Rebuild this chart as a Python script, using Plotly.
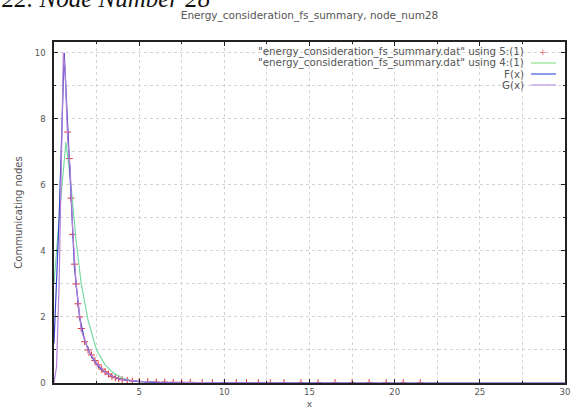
import plotly.graph_objects as go

# Data
red_x = [0.8, 0.9, 1.0, 1.1, 1.2, 1.3, 1.4, 1.5, 1.6, 1.8, 2.0, 2.2, 2.4, 2.6, 2.8, 3.0,
         3.2, 3.4, 3.6, 3.8, 4.0, 4.3, 4.6, 5.0, 5.5, 6.0, 6.5, 7.0, 7.5, 8.0, 8.7, 9.3,
         10.0, 10.7, 11.3, 12.0, 12.7, 13.5, 14.5, 15.5, 16.5, 17.5, 18.5, 19.5, 20.5, 21.5]
red_y = [7.6, 6.8, 5.6, 4.5, 3.6, 3.0, 2.4, 2.0, 1.65, 1.25, 1.0, 0.85, 0.68, 0.55, 0.42, 0.34,
         0.27, 0.2, 0.16, 0.13, 0.1, 0.08, 0.06, 0.05, 0.04, 0.03, 0.03, 0.02, 0.02, 0.02, 0.01, 0.01,
         0.01, 0.01, 0.01, 0.01, 0.01, 0.01, 0.01, 0.01, 0.01, 0.01, 0.01, 0.01, 0.01, 0.01]

green_x = [0.0, 0.3, 0.7, 1.0, 1.3, 1.6, 2.0, 2.5, 3.0, 3.5, 4.0, 4.5, 5.0, 6.0, 8.0]
green_y = [3.0, 5.0, 7.3, 6.0, 4.3, 3.0, 1.9, 1.0, 0.55, 0.3, 0.15, 0.08, 0.05, 0.02, 0.01]

f_x = [0.0, 0.3, 0.6, 0.9, 1.2, 1.5, 1.8, 2.1, 2.4, 2.7, 3.0, 3.5, 4.0, 5.0, 6.0, 8.0, 10.0, 15.0, 20.0, 30.0]
f_y = [1.2, 5.0, 10.0, 6.9, 3.5, 2.0, 1.3, 0.9, 0.65, 0.45, 0.33, 0.18, 0.1, 0.04, 0.02, 0.01, 0.005, 0.0, 0.0, 0.0]

g_x = [0.0, 0.15, 0.3, 0.45, 0.55, 0.65, 0.8, 0.95, 1.1, 1.3, 1.6, 2.0, 2.5, 3.0, 3.5, 4.0, 5.0, 6.0, 8.0, 10.0, 15.0, 20.0, 30.0]
g_y = [0.0, 0.5, 3.0, 7.8, 10.0, 9.5, 7.4, 6.5, 4.6, 3.0, 1.6, 1.0, 0.6, 0.33, 0.18, 0.1, 0.05, 0.03, 0.01, 0.005, 0.0, 0.0, 0.0]

x_ticks = [5, 10, 15, 20, 25, 30]
y_ticks = [0, 2, 4, 6, 8, 10]

fname = "energy_consideration_fs_summary.dat"
legend_labels = ['"' + fname + '" using 5:(1)', '"' + fname + '" using 4:(1)', "F(x)", "G(x)"]
colors = ["#e23a3a", "#6fd89f", "#3b47c9", "#b47fd6"]
legend_colors = ["#e86a6a", "#a6e8a6", "#6a78e0", "#c9a9e8"]
font_family = "DejaVu Sans"
text_color = "#555555"

fig = go.Figure()
fig.add_trace(go.Scatter(x=red_x, y=red_y, mode="markers", name=legend_labels[0],
                         marker=dict(symbol="cross-thin", size=5, color=colors[0],
                                     line=dict(width=1, color=colors[0]))))
fig.add_trace(go.Scatter(x=green_x, y=green_y, mode="lines", name=legend_labels[1],
                         line=dict(color=colors[1], width=1.1)))
fig.add_trace(go.Scatter(x=f_x, y=f_y, mode="lines", name=legend_labels[2],
                         line=dict(color=colors[2], width=1.2)))
fig.add_trace(go.Scatter(x=g_x, y=g_y, mode="lines", name=legend_labels[3],
                         line=dict(color=colors[3], width=1.2)))

axis_common = dict(
    showline=True, linecolor="#222222", linewidth=1.5, mirror="ticks",
    ticks="inside", ticklen=4, tickcolor="#222222",
    showgrid=True, gridcolor="#d4d4d4", griddash="dot", gridwidth=1,
    zeroline=False, automargin=False,
    tickfont=dict(family=font_family, size=8.5, color=text_color),
)
minor_style = dict(ticks="inside", ticklen=2, tickcolor="#222222",
                   showgrid=True, gridcolor="#d4d4d4", griddash="dot")

fig.update_xaxes(range=[0, 30], tickvals=x_ticks, minor=dict(dtick=2.5, tick0=0, **minor_style),
                 title=dict(text="x", font=dict(family=font_family, size=9, color=text_color), standoff=12),
                 **axis_common)
fig.update_yaxes(range=[0, 10.33], tickvals=y_ticks, minor=dict(dtick=1, tick0=0, **minor_style),
                 ticklabelstandoff=5,
                 title=dict(text="Communicating nodes", font=dict(family=font_family, size=10, color=text_color), standoff=10),
                 **axis_common)

# gnuplot-style legend: right-aligned text with the sample to its right
L, R, T, B = 54, 565, 42, 383
W, H = R - L, B - T
def px(x):
    return (x - L) / W
def py(y):
    return (B - y) / H

annotations = [dict(text="<i>22. Node Number 28</i>", xref="paper", yref="paper",
                    x=px(0), y=py(-1), xanchor="left", yanchor="middle", showarrow=False,
                    font=dict(family="Liberation Serif", size=25, color="#111111"))]
shapes = []
rows_y = [52, 63, 74, 85]
for i, (lab, yy) in enumerate(zip(legend_labels, rows_y)):
    annotations.append(dict(text=lab, xref="paper", yref="paper", x=px(526), y=py(yy),
                            xanchor="right", yanchor="middle", showarrow=False,
                            font=dict(family=font_family, size=10.3, color=text_color)))
    if i == 0:
        annotations.append(dict(text="+", xref="paper", yref="paper", x=px(543), y=py(yy),
                                xanchor="center", yanchor="middle", showarrow=False,
                                font=dict(family=font_family, size=9, color=legend_colors[0])))
    else:
        shapes.append(dict(type="line", xref="paper", yref="paper", x0=px(531), x1=px(556),
                           y0=py(yy), y1=py(yy), line=dict(color=legend_colors[i], width=1.5)))

fig.update_layout(
    width=575, height=409,
    margin=dict(l=L, r=575 - R, t=T, b=409 - B),
    paper_bgcolor="white", plot_bgcolor="white",
    title=dict(text="Energy_consideration_fs_summary, node_num28", x=0.5, xref="paper", xanchor="center",
               y=1 - 15 / 409, yref="container", yanchor="middle",
               font=dict(family=font_family, size=10.5, color=text_color)),
    showlegend=False,
    annotations=annotations,
    shapes=shapes,
)

fig.write_html("out.html", config={"displayModeBar": False},
               post_script="document.body.style.margin='0px'; document.body.style.overflow='hidden';")
